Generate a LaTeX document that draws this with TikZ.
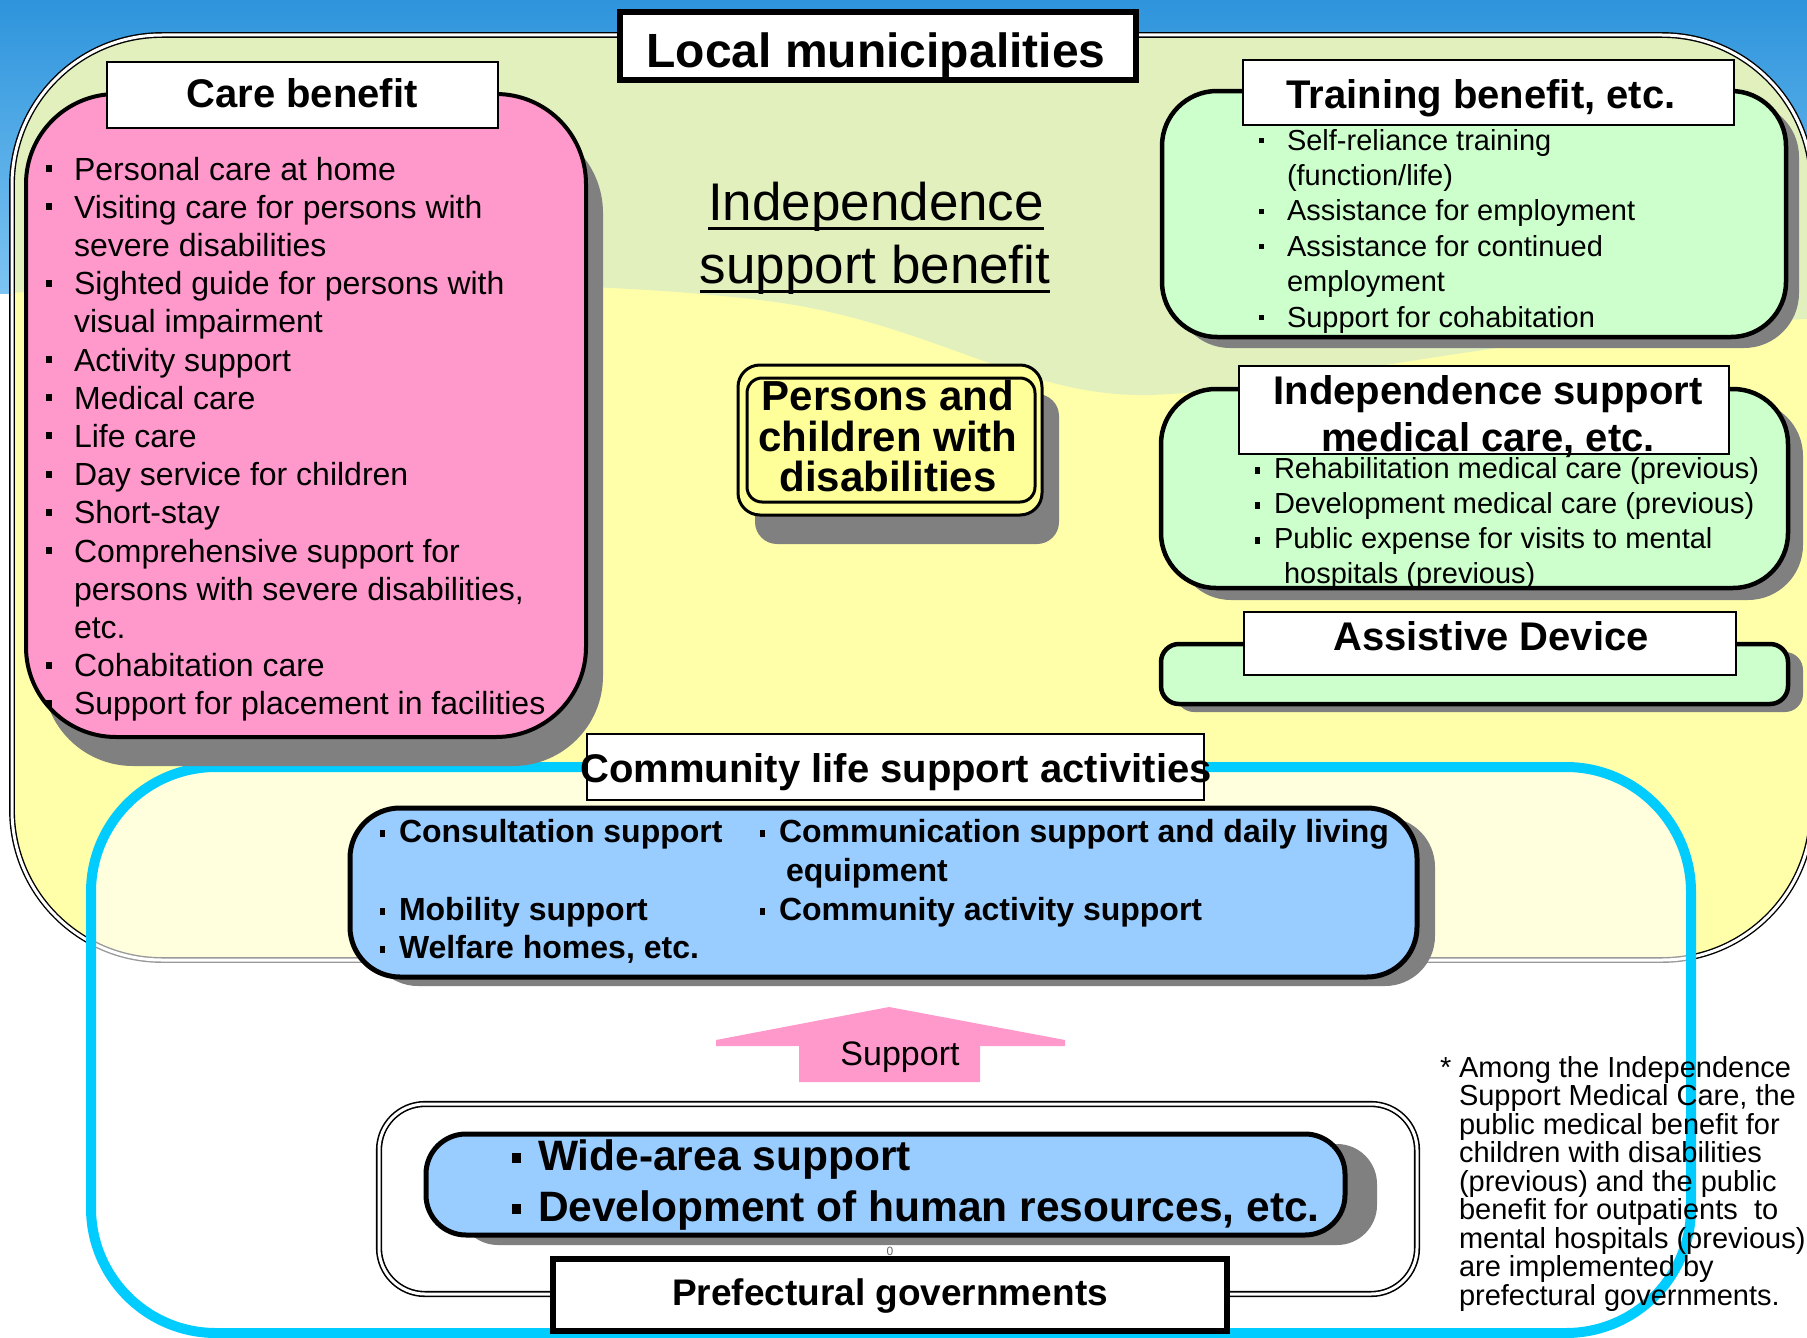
\documentclass[tikz,border=0pt]{standalone}
\usepackage{fontspec}
\setmainfont{Liberation Sans}
\usetikzlibrary{calc,fit,shadows}
\definecolor{skytop}{HTML}{2E94DC}
\definecolor{skybot}{HTML}{7CC4F2}
\definecolor{yellowc}{HTML}{FFFFAA}
\definecolor{greenc}{HTML}{E2F0BE}
\definecolor{pinkc}{HTML}{FF99CC}
\definecolor{greenbox}{HTML}{CCFFCC}
\definecolor{bluebox}{HTML}{99CCFF}
\definecolor{personc}{HTML}{FFFF99}
\definecolor{shadowc}{HTML}{808080}
\definecolor{cyanc}{HTML}{00CCFF}
\newcommand{\fs}[2]{\fontsize{#1}{#2}\selectfont}
\newcommand{\mybul}[4]{\makebox[0pt][r]{\rule[#2]{#3}{#4}\hspace*{#1}}}
\newcommand{\bulC}{\mybul{22pt}{8pt}{6pt}{7pt}}
\newcommand{\bulT}{\mybul{23pt}{7pt}{5pt}{5pt}}
\newcommand{\bulM}{\mybul{14pt}{4pt}{5pt}{7pt}}
\newcommand{\bulK}{\mybul{14pt}{5pt}{5pt}{7pt}}
\newcommand{\bulW}{\mybul{17pt}{7pt}{9pt}{10pt}}
\begin{document}
\begin{tikzpicture}[x=1pt,y=-1pt,
 box/.style={inner sep=0pt,outer sep=0pt},
 lbl/.style={box,draw=black,line width=2pt,fill=white},
 lblthick/.style={lbl,line width=6pt},
 txt/.style={inner sep=0pt,outer sep=0pt,anchor=base west},
 ctxt/.style={inner sep=0pt,outer sep=0pt,anchor=base},
 shad/.style 2 args={drop shadow={shadow xshift=#1pt,shadow yshift=-#2pt,fill=shadowc,opacity=1}},
 bodyC/.style={txt,font=\fs{32}{38}},
 bodyT/.style={txt,font=\fs{29}{35}},
 headB/.style={ctxt,font=\fs{40}{48}\bfseries},
]
\useasboundingbox (0,0) rectangle (1807,1338);
% background
\fill[white] (0,0) rectangle (1807,1338);
\shade[top color=skytop,bottom color=skybot] (0,0) rectangle (1807,293);
% municipal area
\begin{scope}
 \clip[rounded corners=150pt] (12,35) rectangle (1812,960);
 \fill[yellowc] (0,0) rectangle (1830,1000);
 \fill[greenc] (0,0) -- (1830,0) -- (1830,318) .. controls (1500,330) and (1300,390) .. (1150,395) .. controls (1020,398) and (930,320) .. (760,300) .. controls (550,275) and (300,285) .. (0,293) -- cycle;
\end{scope}
\node[box,fit={(12,35) (1812,960)},rounded corners=150pt,draw=black,line width=1.4pt,double=white,double distance=3pt] (muni) {};
% community area (cyan)
\node[box,fit={(91,767) (1691,1333)},rounded corners=125pt,draw=cyanc,line width=10pt,fill=white,fill opacity=0.6] (commarea) {};

% care benefit
\node[box,fit={(26,94) (586,737)},rounded corners=90pt,fill=pinkc,draw=black,line width=4pt,shad={17}{29}] (care) {};
\node[lbl,fit={(107,62) (498,128)}] (carelbl) {};
\node[headB] (carettl) at (302,107) {Care benefit};
\foreach \itm [count=\i from 0] in {
 {\bulC Personal care at home},
 {\bulC Visiting care for persons with},
 {severe disabilities},
 {\bulC Sighted guide for persons with},
 {visual impairment},
 {\bulC Activity support},
 {\bulC Medical care},
 {\bulC Life care},
 {\bulC Day service for children},
 {\bulC Short-stay},
 {\bulC Comprehensive support for},
 {persons with severe disabilities,},
 {etc.},
 {\bulC Cohabitation care},
 {\bulC Support for placement in facilities}}
 {\node[bodyC] (care-\i) at (74,{180+38.2*\i}) {\itm};}

% persons
\node[box,fit={(738,365) (1042,515)},rounded corners=22pt,fill=personc,draw=black,line width=3pt,shad={17}{29}] (persons) {};
\node[box,fit={(747,378) (1035,502)},rounded corners=15pt,draw=black,line width=3pt] (personsin) {};
\node[ctxt,font=\fs{42}{40}\bfseries] (p1) at (888,410) {Persons and};
\node[ctxt,font=\fs{42}{40}\bfseries] (p2) at (888,451) {children with};
\node[ctxt,font=\fs{42}{40}\bfseries] (p3) at (888,491) {disabilities};

% training
\node[box,fit={(1162,91) (1786,337)},rounded corners=55pt,fill=greenbox,draw=black,line width=4.5pt,shad={13}{11}] (train) {};
\node[lbl,fit={(1243,60) (1734,125)}] (trainlbl) {};
\node[headB] (trainttl) at (1481,108) {Training benefit, etc.};
\foreach \itm [count=\i from 0] in {
 {\bulT Self-reliance training},
 {(function/life)},
 {\bulT Assistance for employment},
 {\bulT Assistance for continued},
 {employment},
 {\bulT Support for cohabitation}}
 {\node[bodyT] (train-\i) at (1287,{150+35.4*\i}) {\itm};}

% medical
\node[box,fit={(1161,389) (1788,588)},rounded corners=55pt,fill=greenbox,draw=black,line width=4.5pt,shad={15}{12}] (med) {};
\node[lbl,fit={(1239,366) (1729,454)}] (medlbl) {};
\node[headB] (medttl1) at (1488,404) {Independence support};
\node[headB] (medttl2) at (1488,451) {medical care, etc.};
\node[bodyT] (med-0) at (1274,478) {\bulM Rehabilitation medical care (previous)};
\node[bodyT] (med-1) at (1274,513) {\bulM Development medical care (previous)};
\node[bodyT] (med-2) at (1274,548) {\bulM Public expense for visits to mental};
\node[bodyT] (med-3) at (1284,583) {hospitals (previous)};

% assistive
\node[box,fit={(1161,644) (1788,704)},rounded corners=18pt,fill=greenbox,draw=black,line width=4.5pt,shad={15}{8}] (asst) {};
\node[lbl,fit={(1244,612) (1736,675)}] (asstlbl) {};
\node[headB] (assttxt) at (1491,650) {Assistive Device};

% local municipalities
\node[lblthick,fit={(620,12) (1136,80)}] (munilbl) {};
\node[ctxt,font=\fs{48}{56}\bfseries] (munittl) at (876,67) {Local municipalities};

% independence support benefit
\node[ctxt,font=\fs{53}{63}] (isb1) at (876,220) {Independence};
\node[ctxt,font=\fs{53}{63}] (isb2) at (875,283) {support benefit};
\draw[line width=3pt] ($(isb1.base west)+(0,8)$) -- ($(isb1.base east)+(0,8)$);
\draw[line width=3pt] ($(isb2.base west)+(0,8)$) -- ($(isb2.base east)+(0,8)$);

% community life support
\node[lbl,fit={(587,734) (1204,800)}] (commlbl) {};
\node[headB] (commttl) at (896,782) {Community life support activities};
\node[box,fit={(350,808) (1417,977)},rounded corners=50pt,fill=bluebox,draw=black,line width=5pt,shad={18}{9}] (commbox) {};
\node[txt,font=\fs{32}{38}\bfseries] (k1) at (399,842) {\bulK Consultation support};
\node[txt,font=\fs{32}{38}\bfseries] (k2) at (779,842) {\bulK Communication support and daily living};
\node[txt,font=\fs{32}{38}\bfseries] (k3) at (786,881) {equipment};
\node[txt,font=\fs{32}{38}\bfseries] (k4) at (399,920) {\bulK Mobility support};
\node[txt,font=\fs{32}{38}\bfseries] (k5) at (779,920) {\bulK Community activity support};
\node[txt,font=\fs{32}{38}\bfseries] (k6) at (399,958) {\bulK Welfare homes, etc.};

% support arrow
\fill[pinkc] (889,1007) -- (1065,1040) -- (1065,1046) -- (980,1046) -- (980,1082) -- (799,1082) -- (799,1046) -- (716,1046) -- (716,1040) -- cycle;
\node[ctxt,font=\fs{34}{40}] (supp) at (900,1065) {Support};

% prefectural
\node[box,fit={(379,1104) (1417,1294)},rounded corners=46pt,fill=white,draw=black,line width=1.6pt,double=white,double distance=3pt] (pref) {};
\node[box,fit={(426,1134) (1345,1235)},rounded corners=40pt,fill=bluebox,draw=black,line width=5pt,shad={32}{10}] (wide) {};
\node[txt,font=\fs{42.5}{51}\bfseries] (w1) at (538,1170) {\bulW Wide-area support};
\node[txt,font=\fs{42.5}{51}\bfseries] (w2) at (538,1221) {\bulW Development of human resources, etc.};
\node[inner sep=0pt,font=\fs{12}{14},text=black!60] (zero) at (890,1251) {0};
\node[lblthick,fit={(553,1259) (1227,1331)}] (preflbl) {};
\node[ctxt,font=\fs{37}{44}\bfseries] (prefttl) at (890,1305) {Prefectural governments};

% footnote
\node[txt,font=\fs{29}{28.5}] (star) at (1440,1077) {*};
\foreach \itm [count=\i from 0] in {
 {Among the Independence},
 {Support Medical Care, the},
 {public medical benefit for},
 {children with disabilities},
 {(previous) and the public},
 {benefit for outpatients~ to},
 {mental hospitals (previous)},
 {are implemented by},
 {prefectural governments.}}
 {\node[txt,font=\fs{29}{28.5}] (note-\i) at (1459,{1077+28.5*\i}) {\itm};}
\end{tikzpicture}
\end{document}
